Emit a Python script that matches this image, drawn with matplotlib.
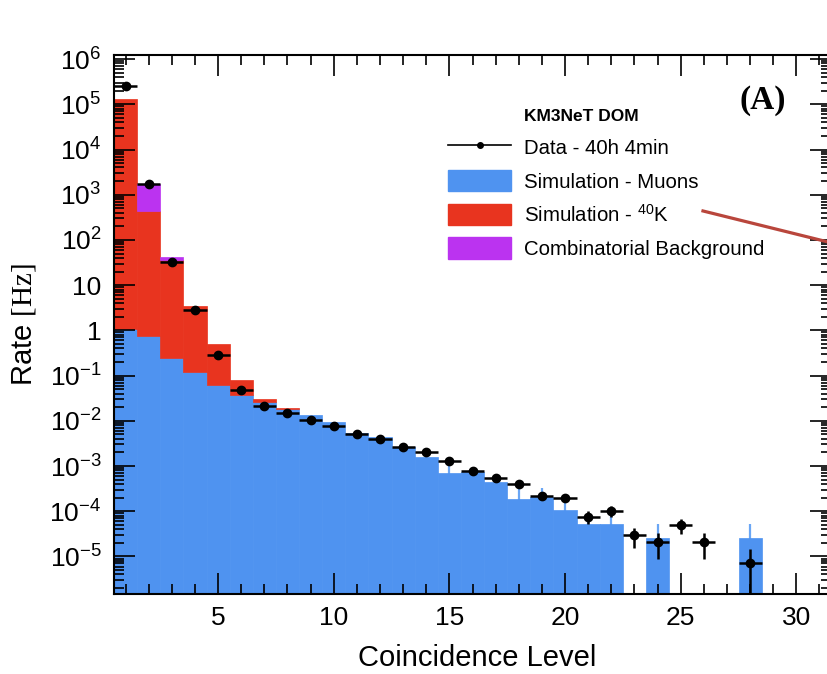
import numpy as np
import matplotlib.pyplot as plt
from matplotlib.lines import Line2D
from matplotlib.patches import Patch
from matplotlib.ticker import LogLocator, MultipleLocator, FuncFormatter, NullFormatter

plt.rcParams['font.family'] = ['Liberation Sans', 'DejaVu Sans']
plt.rcParams['mathtext.fontset'] = 'custom'
plt.rcParams['mathtext.rm'] = 'Liberation Serif'
plt.rcParams['mathtext.default'] = 'regular'

BLUE = '#4f93f0'
RED = '#e8341f'
PURPLE = '#bb33f0'

# coincidence levels 1..31, rates in Hz
level = np.arange(1, 32)
muons = np.array([1.1, 0.75, 0.24, 0.12, 0.062, 0.037, 0.026, 0.018, 0.0135, 0.0093,
                  0.0053, 0.0043, 0.0026, 0.00156, 0.00071, 0.00072, 0.00045, 0.000184,
                  0.000204, 0.000107, 5.2e-5, 5.2e-5, 0, 2.6e-5, 0, 0, 0, 2.6e-5, 0, 0, 0])
muons_err = np.array([0, 0, 0, 0, 0, 0, 0, 0, 0, 0,
                      0, 0, 0, 2.5e-4, 2.8e-4, 2.5e-4, 2e-4, 1.3e-4,
                      1.3e-4, 6e-5, 3e-5, 3e-5, 0, 2.5e-5, 0, 0, 0, 2.5e-5, 0, 0, 0])
k40 = np.array([1.29e5, 435, 35, 3.4, 0.44, 0.044, 0.004, 0.0015] + [0] * 23)
comb = np.array([0, 1314, 6] + [0] * 28)

data_level = np.array(list(range(1, 27)) + [28])
data_rate = np.array([2.57e5, 1.72e3, 32.5, 2.82, 0.28, 0.048, 0.0217, 0.0147, 0.0105, 0.0076,
                      0.0051, 0.0040, 0.00264, 0.00205, 0.00132, 0.00079, 0.00054, 0.00040,
                      0.00022, 0.000195, 7.6e-5, 1.02e-4, 2.95e-5, 2.1e-5, 5.0e-5, 2.1e-5, 7.3e-6])
data_err = np.array([0, 0, 0, 0, 0, 0, 0, 0, 0, 0,
                     0, 0, 0, 1.2e-4, 9.6e-5, 7.4e-5, 6.1e-5, 5.3e-5,
                     3.9e-5, 3.7e-5, 2.3e-5, 2.7e-5, 1.4e-5, 1.2e-5, 1.8e-5, 1.2e-5, 7.0e-6])

fig = plt.figure(figsize=(8.28, 6.74), dpi=100)
ax = fig.add_axes([0.1377, 0.1187, 0.866, 0.7997])

# simulation error bars sit behind the filled histogram
m = muons_err > 0
ax.errorbar(level[m], muons[m], yerr=muons_err[m], fmt='none', ecolor='#6aa6f5',
            elinewidth=1.6, capsize=0, zorder=0.5)

m = muons > 0
ax.bar(level[m], muons[m], width=1, color=BLUE, ec=BLUE, lw=0.5, zorder=1)
m = k40 > 0
ax.bar(level[m], k40[m], bottom=muons[m], width=1, color=RED, ec=RED, lw=0.5, zorder=1)
m = comb > 0
ax.bar(level[m], comb[m], bottom=(muons + k40)[m], width=1, color=PURPLE, ec=PURPLE, lw=0.5, zorder=1)

ax.errorbar(data_level, data_rate, xerr=0.5, yerr=data_err, fmt='o', color='k',
            ms=6, elinewidth=1.8, capsize=0, zorder=3)

ax.set_yscale('log')
ax.set_xlim(0.5, 31.5)
ax.set_ylim(1.48e-6, 1.23e6)

def fmt_log(v, pos):
    e = int(round(np.log10(v)))
    if e == 0:
        return '1'
    if e == 1:
        return '10'
    return r'$10^{%d}$' % e

ax.yaxis.set_major_locator(LogLocator(base=10, numticks=20))
ax.yaxis.set_minor_locator(LogLocator(base=10, subs=np.arange(2, 10), numticks=20))
ax.yaxis.set_major_formatter(FuncFormatter(fmt_log))
ax.yaxis.set_minor_formatter(NullFormatter())
ax.xaxis.set_major_locator(MultipleLocator(5))
ax.xaxis.set_minor_locator(MultipleLocator(1))

ax.tick_params(which='both', direction='in', top=True, right=True, width=1.2)
ax.tick_params(which='major', length=15, labelsize=19, pad=9)
ax.tick_params(which='minor', length=7)
for s in ax.spines.values():
    s.set_linewidth(1.5)

ax.set_xlabel('Coincidence Level', fontsize=21)
ax.xaxis.set_label_coords(0.507, -0.093)
ax.set_ylabel(r'Rate $\mathrm{[Hz]}$', fontsize=21, labelpad=8)

handles = [Patch(facecolor='none', edgecolor='none'),
           Line2D([], [], color='k', lw=1.2, marker='o', ms=4),
           Patch(facecolor=BLUE, edgecolor=BLUE),
           Patch(facecolor=RED, edgecolor=RED),
           Patch(facecolor=PURPLE, edgecolor=PURPLE)]
labels = ['KM3NeT DOM', 'Data - 40h 4min', 'Simulation - Muons',
          r'Simulation - $^{40}$K', 'Combinatorial Background']
leg = ax.legend(handles, labels, loc='upper left', bbox_to_anchor=(0.466, 0.911),
                frameon=False, fontsize=14.7, handlelength=3.1, handleheight=1.25,
                handletextpad=0.6, labelspacing=0.58, borderpad=0, borderaxespad=0)
leg.get_texts()[0].set_fontweight('bold')
leg.get_texts()[0].set_fontsize(12.5)

ax.text(0.905, 0.915, '(A)', transform=ax.transAxes, ha='center', va='center',
        fontsize=24, fontweight='bold', family='Liberation Serif')

fig.add_artist(Line2D([0.849, 1.0], [0.687, 0.641], color='#b9463c', lw=2.3,
                      transform=fig.transFigure))

fig.savefig('out.png', dpi=100)
